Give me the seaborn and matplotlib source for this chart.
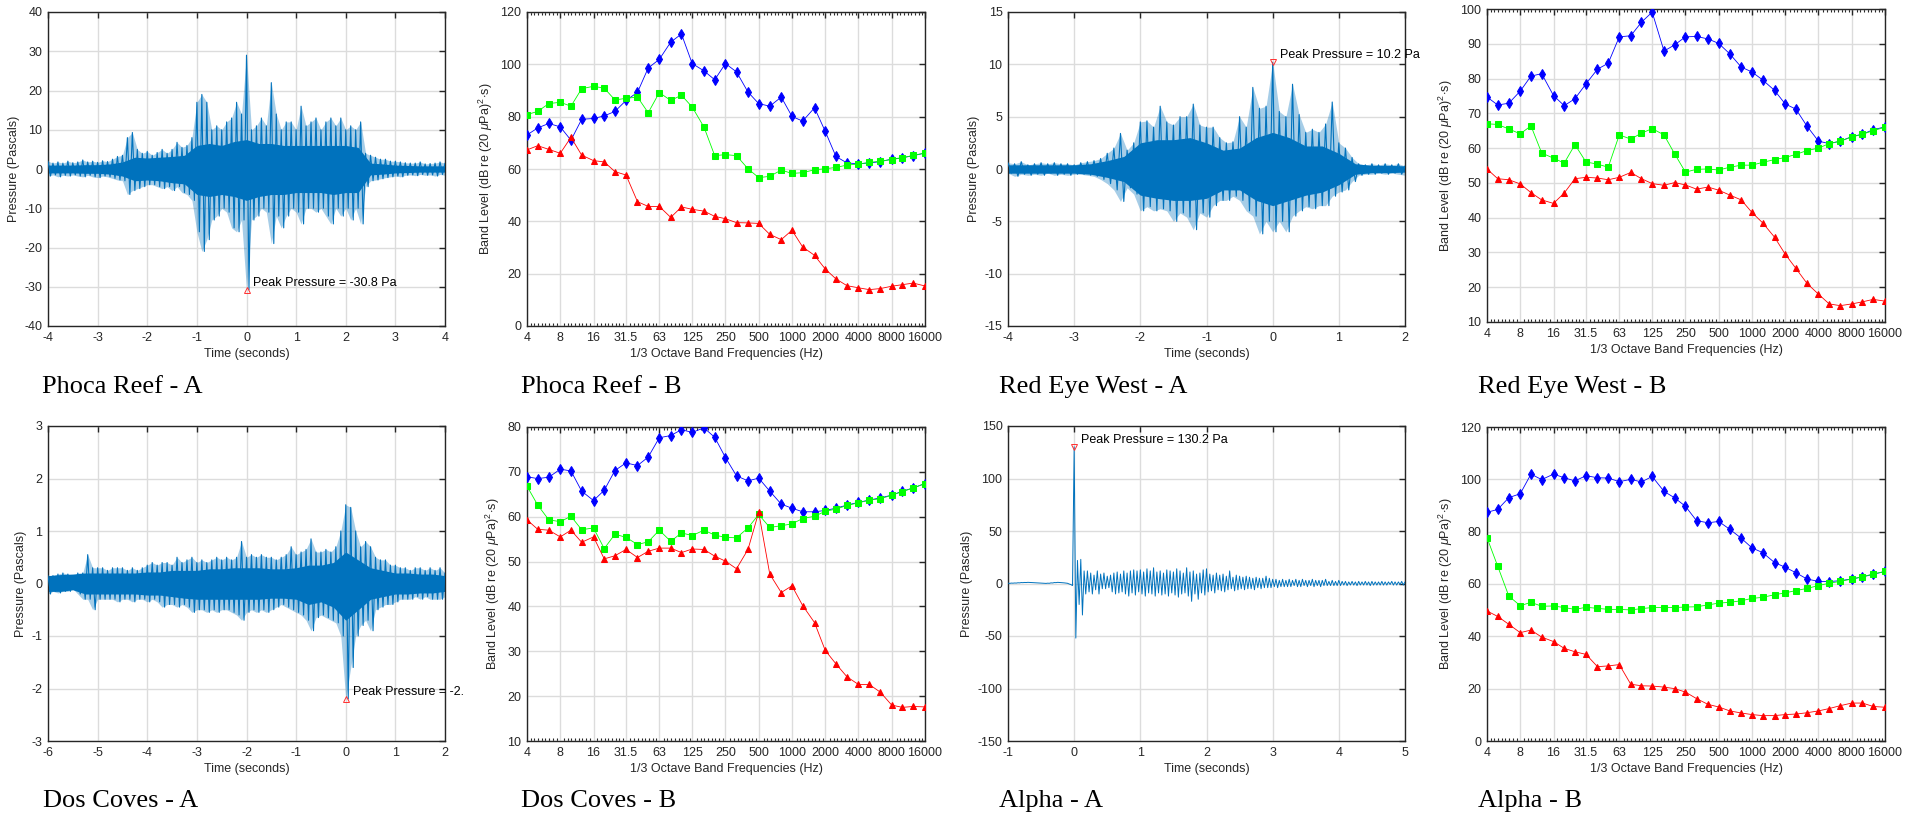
import numpy as np
import pandas as pd
import matplotlib
matplotlib.use('Agg')
import matplotlib.pyplot as plt
from matplotlib.ticker import FixedLocator, NullFormatter
import seaborn as sns

sns.set_style('white')
plt.rcParams['font.family'] = ['Liberation Sans', 'DejaVu Sans']
plt.rcParams['mathtext.fontset'] = 'custom'
plt.rcParams['mathtext.rm'] = 'Liberation Sans'
plt.rcParams['mathtext.it'] = 'Liberation Sans:italic'

# ---------------- 1/3 octave band data ----------------
bands_hz = [4, 5, 6.3, 8, 10, 12.5, 16, 20, 25, 31.5, 40, 50, 63, 80, 100, 125, 160, 200,
            250, 315, 400, 500, 630, 800, 1000, 1250, 1600, 2000, 2500, 3150, 4000, 5000,
            6300, 8000, 10000, 12500, 16000]
band_ticks = [4, 8, 16, 31.5, 63, 125, 250, 500, 1000, 2000, 4000, 8000, 16000]
band_tick_labels = ['4', '8', '16', '31.5', '63', '125', '250', '500', '1000', '2000',
                    '4000', '8000', '16000']

phoca_blue = [73.0, 75.7, 77.4, 76.1, 71.0, 79.0, 79.3, 80.3, 82.0, 86.2, 89.3, 98.6, 101.9,
              108.5, 111.6, 100.3, 97.5, 94.1, 100.3, 97.1, 89.4, 85.0, 84.0, 87.5, 80.1, 78.3,
              83.4, 74.4, 64.8, 62.3, 62.0, 62.3, 62.8, 63.8, 64.3, 65.1, 66.1]
phoca_green = [80.8, 82.0, 85.0, 85.5, 84.0, 90.7, 91.6, 90.9, 86.4, 87.0, 87.5, 81.5, 89.2,
               86.2, 88.2, 83.7, 76.0, 65.1, 65.5, 65.1, 60.1, 56.7, 57.2, 59.6, 58.3, 58.6,
               59.7, 60.1, 60.6, 61.5, 61.9, 62.5, 63.0, 63.6, 64.3, 65.2, 66.1]
phoca_red = [67.3, 68.9, 67.5, 66.0, 72.1, 65.3, 63.2, 62.7, 59.0, 57.7, 47.5, 45.7, 45.7,
             41.5, 45.5, 44.6, 43.9, 41.9, 41.0, 39.5, 39.4, 39.2, 35.0, 33.0, 36.6, 30.2,
             27.0, 21.8, 18.0, 15.4, 14.6, 13.9, 14.3, 15.2, 15.8, 16.4, 15.3]

redeye_blue = [74.7, 72.4, 72.9, 76.4, 80.7, 81.4, 75.1, 72.2, 74.2, 78.5, 82.7, 84.4, 92.0,
               92.3, 96.2, 99.1, 87.9, 89.7, 92.0, 92.1, 91.4, 90.1, 87.1, 83.3, 81.9, 79.6,
               76.6, 72.7, 71.2, 66.3, 62.0, 61.3, 62.0, 63.3, 64.0, 65.3, 66.1]
redeye_green = [67.0, 66.8, 65.5, 64.1, 66.4, 58.6, 57.1, 55.7, 61.0, 56.0, 55.4, 54.5, 63.8,
                62.6, 64.3, 65.6, 63.8, 58.3, 53.1, 53.9, 54.0, 53.7, 54.5, 55.1, 55.1, 55.9,
                56.7, 57.3, 58.2, 59.3, 60.0, 61.3, 62.0, 63.2, 64.0, 65.0, 66.0]
redeye_red = [54.0, 51.2, 50.9, 49.7, 47.2, 45.1, 44.1, 47.1, 51.2, 51.6, 51.4, 50.9, 51.6,
              53.0, 51.2, 49.8, 49.3, 50.1, 49.4, 48.2, 48.8, 47.9, 46.5, 45.1, 41.5, 38.5,
              34.4, 29.5, 25.4, 21.1, 18.0, 15.2, 14.7, 15.2, 15.8, 16.5, 16.0]

dos_blue = [68.9, 68.5, 68.8, 70.6, 70.2, 65.7, 63.6, 65.9, 70.3, 72.0, 71.4, 73.3, 77.6, 78.1,
            79.4, 78.8, 79.8, 77.7, 73.2, 69.1, 68.0, 68.6, 65.7, 62.8, 61.9, 61.1, 61.1, 61.4,
            61.9, 62.6, 63.2, 63.7, 64.2, 64.8, 65.7, 66.4, 67.4]
dos_green = [66.8, 62.6, 59.3, 58.9, 60.1, 57.1, 57.5, 52.9, 56.1, 55.4, 53.8, 54.4, 57.0,
             54.5, 56.4, 55.8, 57.0, 55.9, 55.4, 55.3, 57.5, 60.5, 57.6, 58.0, 58.4, 59.6,
             60.1, 61.2, 61.7, 62.5, 63.1, 63.7, 64.0, 64.8, 65.6, 66.4, 67.4]
dos_red = [59.3, 57.2, 57.0, 55.5, 57.0, 54.3, 55.5, 50.6, 51.3, 52.7, 50.9, 52.3, 53.0, 53.0,
           52.0, 52.8, 52.7, 51.2, 50.1, 48.4, 52.7, 61.0, 47.2, 43.1, 44.6, 40.2, 36.4, 30.2,
           27.2, 24.3, 22.6, 22.6, 20.9, 18.0, 17.5, 17.7, 17.6]

alpha_blue = [87.4, 88.5, 93.0, 94.5, 102.0, 99.9, 102.0, 100.6, 99.4, 101.4, 100.6, 100.5,
              99.1, 100.0, 99.0, 101.1, 95.4, 92.9, 89.7, 84.2, 83.4, 83.9, 80.9, 77.5, 73.8,
              72.0, 68.2, 66.4, 64.3, 61.9, 61.0, 60.9, 61.3, 61.9, 62.7, 63.7, 64.8]
alpha_green = [77.7, 66.8, 55.4, 51.7, 53.0, 51.5, 51.6, 51.0, 50.3, 51.1, 50.7, 50.3, 50.3,
               50.1, 50.6, 51.0, 51.0, 51.0, 51.2, 51.3, 52.0, 52.7, 53.0, 53.6, 54.5, 54.9,
               55.9, 56.6, 57.5, 58.3, 59.4, 60.3, 61.0, 61.9, 62.8, 63.8, 64.8]
alpha_red = [49.7, 47.6, 44.6, 41.4, 42.4, 39.7, 38.0, 35.4, 34.1, 33.1, 28.4, 28.7, 29.2,
             21.7, 21.1, 21.0, 20.6, 20.0, 18.7, 16.2, 14.0, 13.0, 11.5, 10.7, 10.1, 9.7, 9.7,
             10.1, 10.3, 10.8, 11.5, 12.4, 13.5, 14.5, 14.5, 13.2, 12.9]

# ---------------- pressure waveform envelopes (peaks) ----------------
phoca_t = (-4.0, 4.0)
phoca_up = [2.0, 1.5, 1.8, 1.5, 2.0, 1.6, 1.8, 2.3, 1.8, 2.0, 1.7, 2.1, 1.9, 2.5, 3.2, 3.5,
            8.0, 9.3, 5.0, 4.0, 4.5, 3.5, 4.2, 5.0, 4.0, 5.0, 6.8, 5.5, 6.0, 8.0, 17.0, 19.0,
            17.0, 10.0, 11.0, 10.0, 12.0, 13.0, 17.0, 14.0, 29.0, 10.0, 11.0, 13.0, 11.0, 22.0,
            14.0, 10.0, 12.0, 12.0, 10.0, 16.0, 11.0, 12.0, 13.0, 10.0, 12.0, 13.0, 11.0, 13.0,
            10.0, 11.0, 10.0, 12.0, 4.0, 3.5, 3.0, 2.5, 2.5, 2.0, 2.0, 1.8, 1.6, 1.5, 1.5, 1.8,
            1.3, 1.4, 1.5, 1.8, 1.5]
phoca_lo = [-1.8, -1.5, -2.0, -1.6, -1.8, -1.5, -1.8, -2.0, -1.6, -2.0, -2.2, -1.8, -2.0,
            -2.4, -2.8, -3.0, -6.5, -5.5, -5.0, -4.5, -4.0, -4.0, -4.5, -5.0, -4.5, -5.5, -4.5,
            -6.0, -6.5, -8.0, -16.0, -21.0, -18.0, -13.0, -12.0, -10.0, -11.0, -15.0, -16.0,
            -13.0, -30.8, -13.0, -12.0, -10.0, -11.0, -19.0, -12.0, -15.0, -12.0, -10.0, -11.0,
            -14.0, -10.0, -10.0, -11.0, -10.0, -12.0, -14.0, -10.0, -12.0, -10.0, -13.0, -10.0,
            -14.0, -4.5, -3.0, -2.8, -2.5, -2.2, -2.0, -1.8, -2.0, -1.6, -1.5, -1.7, -1.4, -1.6,
            -1.5, -1.8, -1.4, -1.6]
phoca_core_up = [1.0, 1.0, 1.0, 1.1, 1.1, 1.3, 1.8, 3.0, 2.8, 3.0, 3.2, 3.5, 6.0, 6.5, 6.0,
                 7.0, 7.5, 6.5, 6.5, 6.0, 6.0, 6.0, 6.0, 6.0, 6.0, 5.5, 1.5, 1.3, 1.0, 0.9, 0.8,
                 0.8, 0.8]
phoca_core_lo = [-1.0, -1.0, -1.0, -1.1, -1.1, -1.3, -1.8, -3.0, -2.8, -3.0, -3.5, -3.8, -6.5,
                 -7.0, -6.5, -7.0, -8.0, -7.0, -6.5, -6.5, -6.0, -6.0, -6.0, -6.5, -6.0, -6.0,
                 -1.5, -1.3, -1.0, -0.9, -0.8, -0.8, -0.8]

redeye_t = (-4.0, 2.0)
redeye_up = [0.6, 0.5, 0.7, 0.4, 0.5, 0.6, 0.5, 0.6, 0.5, 0.5, 0.4, 0.6, 0.7, 0.8, 1.0, 1.5,
             2.0, 3.4, 1.8, 2.5, 4.5, 4.6, 4.0, 6.0, 4.5, 4.2, 5.0, 5.0, 6.2, 4.2, 4.0, 4.0, 3.0,
             2.5, 2.6, 5.0, 4.0, 7.8, 5.8, 6.0, 10.2, 5.5, 5.0, 8.1, 5.2, 3.5, 3.8, 3.5, 4.3,
             6.4, 2.5, 2.0, 1.1, 0.5, 0.4, 0.5, 0.4, 0.5, 0.4, 0.5, 0.3]
redeye_lo = [-0.4, -0.7, -0.5, -0.6, -0.5, -0.6, -0.4, -0.6, -0.5, -0.6, -0.5, -0.5, -0.6,
             -0.7, -1.0, -1.4, -2.0, -3.1, -1.8, -2.4, -4.0, -3.6, -4.0, -3.8, -4.0, -5.0, -4.2,
             -4.6, -5.8, -4.2, -4.6, -3.5, -3.0, -3.0, -2.6, -3.0, -4.0, -4.5, -6.2, -5.0, -6.0,
             -5.0, -6.0, -4.5, -4.0, -3.6, -3.8, -3.5, -3.5, -2.6, -2.2, -2.0, -1.2, -0.6, -0.5,
             -0.5, -0.4, -0.5, -0.4, -0.5, -0.6]
redeye_core_up = [0.4, 0.4, 0.4, 0.4, 0.4, 0.5, 0.8, 1.2, 2.5, 2.8, 2.8, 3.0, 2.5, 1.8, 2.0,
                  3.0, 3.5, 3.0, 2.2, 2.2, 1.5, 0.5, 0.35, 0.35, 0.3]
redeye_core_lo = [-0.4, -0.4, -0.4, -0.4, -0.4, -0.5, -0.8, -1.2, -2.5, -2.8, -3.0, -3.0, -2.8,
                  -2.0, -2.0, -3.0, -3.5, -3.0, -2.5, -2.2, -1.5, -0.5, -0.35, -0.35, -0.3]

dos_t = (-6.0, 2.0)
dos_up = [0.15, 0.15, 0.18, 0.2, 0.18, 0.15, 0.2, 0.2, 0.55, 0.3, 0.3, 0.3, 0.25, 0.3, 0.3,
          0.3, 0.25, 0.3, 0.25, 0.3, 0.35, 0.4, 0.35, 0.4, 0.4, 0.35, 0.5, 0.4, 0.45, 0.5, 0.4,
          0.45, 0.4, 0.45, 0.5, 0.45, 0.5, 0.45, 0.5, 0.8, 0.5, 0.55, 0.5, 0.55, 0.5, 0.5,
          0.45, 0.5, 0.55, 0.7, 0.55, 0.6, 0.65, 0.85, 0.6, 0.6, 0.65, 0.6, 0.7, 1.0, 1.5,
          1.45, 1.0, 0.7, 0.8, 0.7, 0.5, 0.45, 0.45, 0.35, 0.35, 0.3, 0.3, 0.25, 0.3, 0.3,
          0.25, 0.3, 0.25, 0.3, 0.2]
dos_lo = [-0.2, -0.15, -0.18, -0.15, -0.15, -0.1, -0.2, -0.3, -0.3, -0.5, -0.3, -0.3, -0.3,
          -0.3, -0.35, -0.3, -0.3, -0.35, -0.3, -0.3, -0.35, -0.3, -0.35, -0.45, -0.4, -0.4,
          -0.45, -0.4, -0.45, -0.55, -0.5, -0.5, -0.55, -0.5, -0.55, -0.5, -0.5, -0.55, -0.6,
          -0.7, -0.55, -0.5, -0.55, -0.5, -0.55, -0.5, -0.45, -0.4, -0.45, -0.5, -0.55, -0.6,
          -0.7, -0.9, -0.65, -0.6, -0.65, -0.7, -0.75, -1.0, -2.2, -1.6, -1.0, -0.8, -0.7,
          -0.9, -0.5, -0.45, -0.4, -0.4, -0.35, -0.3, -0.3, -0.3, -0.25, -0.3, -0.25, -0.3,
          -0.3, -0.3, -0.25]
dos_core_up = [0.15, 0.17, 0.18, 0.2, 0.2, 0.2, 0.2, 0.2, 0.22, 0.22, 0.25, 0.25, 0.25, 0.28,
               0.28, 0.3, 0.3, 0.3, 0.28, 0.28, 0.3, 0.35, 0.35, 0.4, 0.6, 0.45, 0.3, 0.25,
               0.2, 0.2, 0.18, 0.18, 0.15]
dos_core_lo = [-0.15, -0.15, -0.12, -0.2, -0.2, -0.2, -0.2, -0.2, -0.22, -0.22, -0.25, -0.28,
               -0.3, -0.3, -0.3, -0.3, -0.3, -0.3, -0.28, -0.28, -0.3, -0.4, -0.35, -0.45,
               -0.7, -0.5, -0.3, -0.25, -0.2, -0.2, -0.18, -0.18, -0.15]

alpha_t = (-1.0, 5.0)
alpha_up = [0.3, 0.4, 0.5, 0.7, 0.9, 1.0, 1.1, 1.0, 0.8, 0.5, 0.3, 0.2, 0.3, 0.6, 0.9, 1.1,
            1.0, 0.6, 0.2, -1.0,
            130.2, 22, 23, 12, 12, 10, 8, 12, 9, 10, 7, 8, 10, 11, 9, 12, 10, 12, 13, 12, 13,
            11, 14, 12, 15, 11, 12, 10, 13, 12, 11, 14, 12, 10, 15, 11, 12, 9, 10, 13, 14, 9,
            8, 10, 8, 9, 7, 12, 6, 8, 7, 6, 7, 6, 5, 6, 5, 5, 7, 5, 4, 4, 3, 4, 3, 4, 3, 4, 3,
            4, 3, 3, 4, 3, 3, 3, 4, 2, 3, 2, 3,
            2, 2, 1.5, 2, 1.5, 2, 1.5, 2, 1.5, 2, 1.5, 1.5, 2, 1.5, 1.5, 2, 1.5, 1.5, 2, 1.5]
alpha_lo = [0.1, 0.3, 0.4, 0.6, 0.8, 0.9, 1.0, 0.9, 0.7, 0.4, 0.2, 0.1, 0.2, 0.5, 0.8, 1.0,
            0.8, 0.4, -0.5, -2.0,
            -52, -20, -30, -10, -8, -10, -6, -10, -5, -5, -4, -8, -10, -9, -8, -10, -12, -9,
            -11, -8, -10, -12, -9, -10, -12, -9, -11, -10, -12, -9, -11, -13, -10, -9, -12,
            -17, -10, -15, -9, -11, -8, -7, -9, -6, -7, -8, -6, -5, -7, -6, -5, -6, -5, -5,
            -6, -4, -5, -4, -4, -4, -3, -4, -3, -3, -3, -3, -2, -3, -3, -2, -3, -2, -3, -2,
            -3, -2, -2, -2, -2, -2, -2,
            -1.5, -2, -1.5, -1.5, -2, -1.5, -1.5, -1.5, -2, -1.5, -1.5, -1.5, -1.5, -1.5, -1,
            -1.5, -1.5, -1, -1.5, -1]

peaks = {'phoca': -30.8, 'redeye': 10.2, 'dos': -2.2, 'alpha': 130.2}
peak_texts = {'phoca': 'Peak Pressure = -30.8 Pa', 'redeye': 'Peak Pressure = 10.2 Pa',
              'dos': 'Peak Pressure = -2.', 'alpha': 'Peak Pressure = 130.2 Pa'}
captions = ['Phoca Reef - A', 'Phoca Reef - B', 'Red Eye West - A', 'Red Eye West - B',
            'Dos Coves - A', 'Dos Coves - B', 'Alpha - A', 'Alpha - B']

# ---------------- styling ----------------
W, H = 1919, 815
WAVE = '#0072BD'
TXT = '#262626'
GRID = '#dcdcdc'


def rect(l, r, t, b):
    return [l / W, 1 - b / H, (r - l) / W, (b - t) / H]


def style(ax):
    ax.grid(True, color=GRID, lw=1.0)
    ax.set_axisbelow(True)
    for s in ax.spines.values():
        s.set_color(TXT)
        s.set_linewidth(1.0)
    ax.tick_params(which='major', direction='in', top=True, right=True, length=4, width=1.0,
                   colors=TXT, labelsize=9, pad=4)
    ax.tick_params(which='minor', direction='in', top=True, bottom=True, length=2, width=0.8,
                   colors=TXT)


def draw_wave(ax, trange, up, lo, core_up, core_lo, ylim, ystep, key, marker, lw):
    up = np.asarray(up, float)
    lo = np.asarray(lo, float)
    t = np.linspace(trange[0], trange[1], len(up))
    dt = t[1] - t[0]
    x = np.empty(2 * len(t))
    y = np.empty(2 * len(t))
    x[0::2] = t
    x[1::2] = t + dt / 2
    y[0::2] = up
    y[1::2] = lo
    df = pd.DataFrame({'t': x, 'p': y})
    if core_up is not None:
        ax.fill_between(t, lo, up, color=WAVE, lw=0, alpha=0.35, zorder=2)
        tc = np.linspace(trange[0], trange[1], len(core_up))
        ax.fill_between(tc, core_lo, core_up, color=WAVE, lw=0, zorder=2.5)
    sns.lineplot(data=df, x='t', y='p', sort=False, estimator=None, errorbar=None,
                 color=WAVE, lw=lw, ax=ax, zorder=3)
    pk = peaks[key]
    ax.plot([0], [pk], marker=marker, mfc='none', mec='#ff3030', ms=5, mew=0.7, zorder=5)
    ax.annotate(peak_texts[key], (0, pk), xytext=(5, 5), textcoords='offset points',
                ha='left', va='center', fontsize=9, color='black', annotation_clip=False)
    ax.set_xlim(*trange)
    ax.set_ylim(*ylim)
    xt = np.arange(trange[0], trange[1] + 0.01, 1)
    ax.set_xticks(xt)
    ax.set_xticklabels([f'{v:g}' for v in xt])
    yt = np.arange(ylim[0], ylim[1] + ystep * 0.01, ystep)
    ax.set_yticks(yt)
    ax.set_yticklabels([f'{v:g}' for v in yt])
    style(ax)
    ax.set_xlabel('Time (seconds)', fontsize=9, color=TXT, labelpad=3)
    ax.set_ylabel('Pressure (Pascals)', fontsize=9, color=TXT, labelpad=3)


def draw_bands(ax, blue, green, red, ylim, ystep):
    df = pd.DataFrame({'f': bands_hz * 3,
                       'level': list(blue) + list(green) + list(red),
                       'series': ['blue'] * 37 + ['green'] * 37 + ['red'] * 37})
    pal = {'blue': '#0000ff', 'green': '#00ff00', 'red': '#ff0000'}
    mk = {'blue': 'd', 'green': 's', 'red': '^'}
    ms = {'blue': 5, 'green': 4, 'red': 4.5}
    for name in ['blue', 'green', 'red']:
        sub = df[df['series'] == name]
        sns.lineplot(data=sub, x='f', y='level', color=pal[name], lw=0.6, marker=mk[name],
                     markersize=ms[name], markeredgecolor=pal[name], ax=ax, zorder=3,
                     estimator=None, errorbar=None)
    ax.set_xscale('log')
    ax.set_xlim(bands_hz[0], bands_hz[-1])
    ax.set_ylim(*ylim)
    ax.xaxis.set_major_locator(FixedLocator(band_ticks))
    ax.set_xticklabels(band_tick_labels)
    minor = [4 * 2 ** (k / 9) for k in range(0, 109) if k % 9]
    ax.xaxis.set_minor_locator(FixedLocator(minor))
    ax.xaxis.set_minor_formatter(NullFormatter())
    yt = np.arange(ylim[0], ylim[1] + 0.01, ystep)
    ax.set_yticks(yt)
    ax.set_yticklabels([f'{v:g}' for v in yt])
    ax.yaxis.set_minor_locator(FixedLocator([]))
    style(ax)
    if ax.get_legend():
        ax.get_legend().remove()
    ax.set_xlabel('1/3 Octave Band Frequencies (Hz)', fontsize=9, color=TXT, labelpad=3)
    ax.set_ylabel(r'Band Level (dB re (20 $\mu$Pa)$^2\!\cdot\!$s)', fontsize=9, color=TXT,
                  labelpad=4)


fig = plt.figure(figsize=(W / 100, H / 100), dpi=100)

a1 = fig.add_axes(rect(48, 445, 12, 326))
draw_wave(a1, phoca_t, phoca_up, phoca_lo, phoca_core_up, phoca_core_lo, (-40, 40), 10,
          'phoca', '^', 0.8)
b1 = fig.add_axes(rect(527, 925, 12, 326))
draw_bands(b1, phoca_blue, phoca_green, phoca_red, (0, 120), 20)
a2 = fig.add_axes(rect(1008, 1405, 12, 326))
draw_wave(a2, redeye_t, redeye_up, redeye_lo, redeye_core_up, redeye_core_lo, (-15, 15), 5,
          'redeye', 'v', 0.8)
b2 = fig.add_axes(rect(1487, 1885, 9, 322))
draw_bands(b2, redeye_blue, redeye_green, redeye_red, (10, 100), 10)

a3 = fig.add_axes(rect(48, 445, 426, 741))
draw_wave(a3, dos_t, dos_up, dos_lo, dos_core_up, dos_core_lo, (-3, 3), 1, 'dos', '^', 0.8)
b3 = fig.add_axes(rect(527, 925, 427, 741))
draw_bands(b3, dos_blue, dos_green, dos_red, (10, 80), 10)
a4 = fig.add_axes(rect(1008, 1405, 426, 741))
draw_wave(a4, alpha_t, alpha_up, alpha_lo, None, None, (-150, 150), 50, 'alpha', 'v', 0.7)
b4 = fig.add_axes(rect(1487, 1885, 427, 741))
draw_bands(b4, alpha_blue, alpha_green, alpha_red, (0, 120), 20)

cap_pos = [(42, 393), (521, 393), (999, 393), (1478, 393),
           (43, 807), (521, 807), (999, 807), (1478, 807)]
for txt, (cx, cy) in zip(captions, cap_pos):
    fig.text(cx / W, 1 - cy / H, txt, fontsize=19, family='Liberation Serif',
             color='black', ha='left', va='baseline')

fig.savefig('out.png', dpi=100)
